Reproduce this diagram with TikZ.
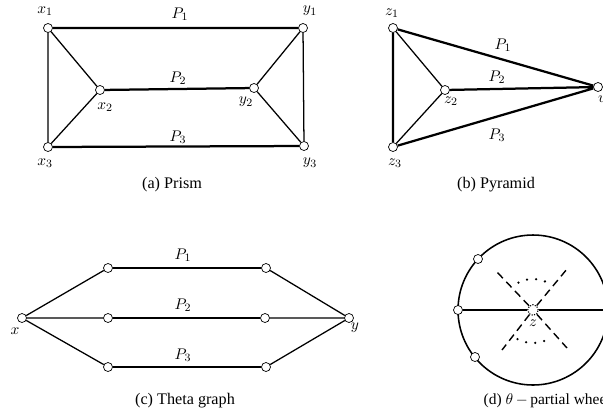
\documentclass[tikz,border=0pt]{standalone}
\usepackage{fontspec}
\setmainfont{Liberation Serif}
\usetikzlibrary{calc}
\tikzset{
  vtx/.style={circle,draw,fill=white,inner sep=0pt,minimum size=6.4pt,line width=0.5pt},
  ctr/.style={circle,draw,densely dotted,fill=white,inner sep=0pt,minimum size=7.5pt,line width=0.8pt},
  pth/.style={line width=1.6pt},
  edg/.style={line width=0.9pt},
  spk/.style={line width=1pt,dash pattern=on 5.5pt off 3.5pt},
  dts/.style={line width=1.8pt,line cap=round,dash pattern=on 0pt off 6.5pt},
  captxt/.style={font=\fontsize{11.5}{13}\selectfont}
}

\begin{document}
\begin{tikzpicture}[x=0.025cm,y=-0.025cm,font=\fontsize{11}{13}\selectfont]
\useasboundingbox (0,0) rectangle (603,416);
% (a) prism
\node[vtx] (x1) at (48,28){};\node[vtx] (y1) at (303,28){};
\node[vtx] (x2) at (100,90){};\node[vtx] (y2) at (254,88){};
\node[vtx] (x3) at (48,147){};\node[vtx] (y3) at (304,146){};
\draw[pth] (x1)--(y1) (x2)--(y2) (x3)--(y3);
\draw[edg] (x1)--(x3) (x1)--(x2)--(x3) (y1)--(y3) (y1)--(y2)--(y3);
\node (lx1) at (45,11){$x_1$};\node (ly1) at (310,11){$y_1$};
\node (lx2) at (105,107){$x_2$};\node (ly2) at (246,102){$y_2$};
\node (lx3) at (45,163){$x_3$};\node (ly3) at (310,163){$y_3$};
\node (pa1) at (180,14){$P_1$};\node (pa2) at (178,78){$P_2$};\node (pa3) at (178,137){$P_3$};
\node[captxt] (capa) at (172,185){(a) Prism};
% (b) pyramid
\node[vtx] (z1) at (393,28){};\node[vtx] (z2) at (445,90){};
\node[vtx] (z3) at (393,147){};\node[vtx] (v) at (598,87){};
\draw[pth] (z1)--(v) (z2)--(v) (z3)--(v) (z1)--(z3);
\draw[edg] (z1)--(z2)--(z3);
\node (lz1) at (392,13){$z_1$};\node (lz2) at (451,101){$z_2$};
\node (lz3) at (395,163){$z_3$};\node (lv) at (602,99){$v$};
\node (pb1) at (503,45){$P_1$};\node (pb2) at (497,77){$P_2$};\node (pb3) at (497,135){$P_3$};
\node[captxt] (capb) at (496,185){(b) Pyramid};
% (c) theta graph
\node[vtx] (x) at (22,318){};\node[vtx] (y) at (349,318){};
\node[vtx] (a1) at (108,268){};\node[vtx] (b1) at (266,268){};
\node[vtx] (a2) at (108,318){};\node[vtx] (b2) at (265,318){};
\node[vtx] (a3) at (108,367){};\node[vtx] (b3) at (266,367){};
\draw[pth] (a1)--(b1) (a2)--(b2) (a3)--(b3);
\draw[edg] (x)--(a1) (x)--(a2) (x)--(a3) (b1)--(y) (b2)--(y) (b3)--(y);
\node (lx) at (15,331){$x$};\node (ly) at (355,328){$y$};
\node (pc1) at (183,255){$P_1$};\node (pc2) at (183,305){$P_2$};\node (pc3) at (183,355){$P_3$};
\node[captxt] (capc) at (185,401){(c) Theta graph};
% (d) theta-partial wheel
\coordinate (c) at (533,310);
\draw[edg,line width=1.1pt] (c) circle[radius=75];
\node[vtx] (w1) at (478,259){};\node[vtx] (w2) at (458,310){};\node[vtx] (w3) at (475,357){};
\node[ctr] (z) at (c){};
\coordinate (wr) at (612,310);
\coordinate (s1) at (497,272);\coordinate (s2) at (567,269);
\coordinate (s3) at (502,350);\coordinate (s4) at (567,348);
\draw[edg] (w2)--(z) (z)--(wr);
\draw[spk] (z)--(s1) (z)--(s2) (z)--(s3) (z)--(s4);
\draw[dts] (c) ++(-118:31) arc[start angle=-118,end angle=-62,radius=31];
\draw[dts] (c) ++(118:33) arc[start angle=118,end angle=62,radius=33];
\node (lz) at (533,323){$z$};
\node[anchor=west,inner sep=1pt] (capd) at (482,401){(d) $\theta\,{-}\,$partial wheel};
\end{tikzpicture}
\end{document}
